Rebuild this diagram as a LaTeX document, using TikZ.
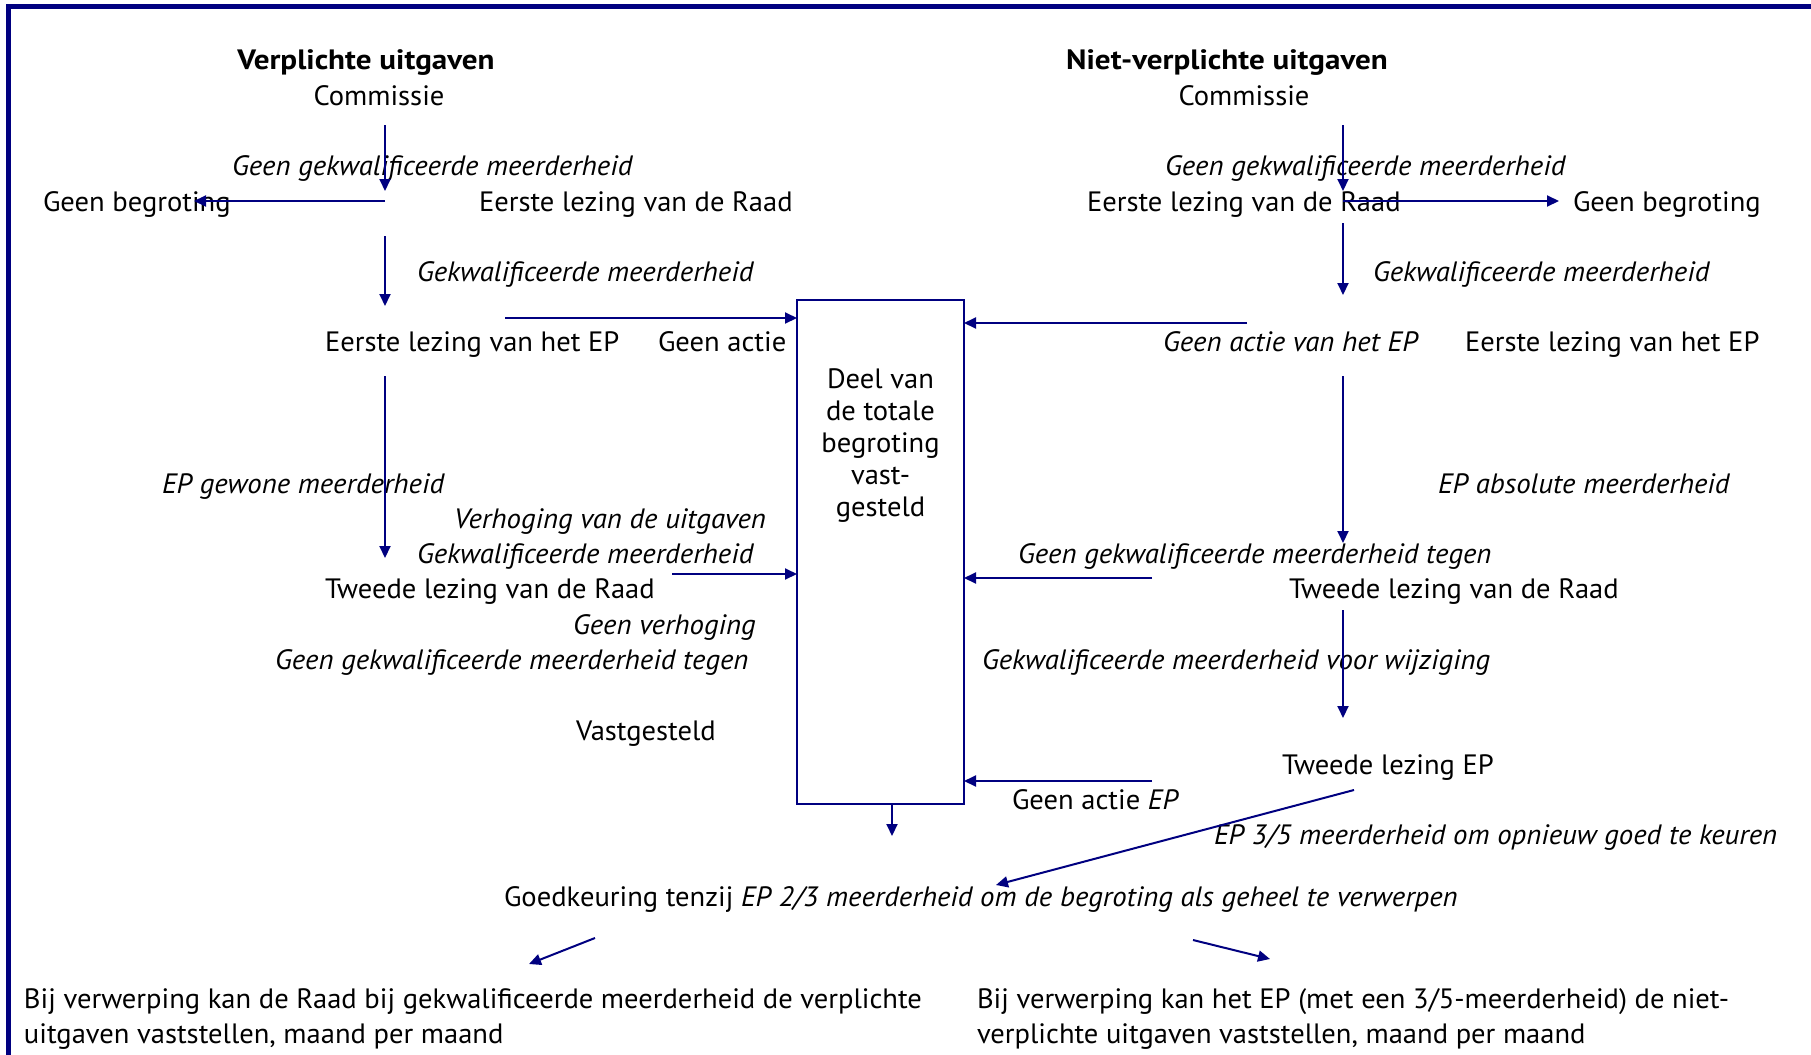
\documentclass[tikz,border=0pt]{standalone}
\usepackage{fontspec}
\setmainfont{PT Sans}[UprightFeatures={FakeStretch=1.02},ItalicFeatures={FakeStretch=1.03},BoldFeatures={FakeStretch=1.11}]
\usetikzlibrary{arrows.meta}
\definecolor{navy}{RGB}{0,0,128}
\begin{document}
\begin{tikzpicture}[x=0.5pt,y=-0.5pt,
  every node/.style={inner sep=0pt,outer sep=0pt,font=\fontsize{14pt}{16pt}\selectfont},
  lbl/.style={anchor=base west},
  ilbl/.style={anchor=base west,font=\fontsize{14pt}{16pt}\selectfont\itshape},
  ttl/.style={anchor=base,font=\fontsize{14pt}{16pt}\selectfont\bfseries},
  arr/.style={navy,line width=1pt,-{Triangle[length=6pt,width=5.5pt]}}]
\useasboundingbox (0,0) rectangle (1811,1055);
% frame
\draw[navy,line width=2.5pt] (1811,6) -- (8.5,6) -- (8.5,1055);
% central box
\node[draw=navy,line width=1pt,minimum width=83.5pt,minimum height=252pt,anchor=north west] (box) at (797,300) {};
\node[align=center,font=\fontsize{14pt}{16pt}\selectfont,anchor=north] (boxtext) at (880.5,369) {Deel van\\de totale\\begroting\\vast-\\gesteld};
% titles
\node[ttl] (t1) at (366,69) {Verplichte uitgaven};
\node[anchor=base] (c1) at (379,105) {Commissie};
\node[ttl] (t2) at (1227,69) {Niet-verplichte uitgaven};
\node[anchor=base] (c2) at (1244,105) {Commissie};
% left column
\node[ilbl] (l1) at (232,175) {Geen gekwalificeerde meerderheid};
\node[lbl] (l2) at (43,211) {Geen begroting};
\node[lbl] (l3) at (479,211) {Eerste lezing van de Raad};
\node[ilbl] (l4) at (417,281) {Gekwalificeerde meerderheid};
\node[lbl] (l5) at (325,351) {Eerste lezing van het EP};
\node[lbl] (l6) at (658,351) {Geen actie};
\node[ilbl] (l7) at (162,493) {EP gewone meerderheid};
\node[ilbl] (l8) at (454,528) {Verhoging van de uitgaven};
\node[ilbl] (l9) at (417,563) {Gekwalificeerde meerderheid};
\node[lbl] (l10) at (325,598) {Tweede lezing van de Raad};
\node[ilbl] (l11) at (573,634) {Geen verhoging};
\node[ilbl] (l12) at (275,669) {Geen gekwalificeerde meerderheid tegen};
\node[lbl] (l13) at (576,740) {Vastgesteld};
% right column
\node[ilbl] (r1) at (1165,175) {Geen gekwalificeerde meerderheid};
\node[lbl] (r2) at (1087,211) {Eerste lezing van de Raad};
\node[lbl] (r3) at (1573,211) {Geen begroting};
\node[ilbl] (r4) at (1373,281) {Gekwalificeerde meerderheid};
\node[ilbl] (r5) at (1163,351) {Geen actie van het EP};
\node[lbl] (r6) at (1465,351) {Eerste lezing van het EP};
\node[ilbl] (r7) at (1438,493) {EP absolute meerderheid};
\node[ilbl] (r8) at (1018,563) {Geen gekwalificeerde meerderheid tegen};
\node[lbl] (r9) at (1289,598) {Tweede lezing van de Raad};
\node[ilbl] (r10) at (982,669) {Gekwalificeerde meerderheid voor wijziging};
\node[lbl] (r11) at (1282,774) {Tweede lezing EP};
\node[lbl] (r12) at (1012,809) {Geen actie \textit{EP}};
\node[ilbl] (r13) at (1214,844) {EP 3/5 meerderheid om opnieuw goed te keuren};
% bottom
\node[lbl] (g) at (504,906) {Goedkeuring tenzij \textit{EP 2/3 meerderheid om de begroting als geheel te verwerpen}};
\node[lbl] (bl1) at (24,1008) {Bij verwerping kan de Raad bij gekwalificeerde meerderheid de verplichte};
\node[lbl] (bl2) at (24,1043) {uitgaven vaststellen, maand per maand};
\node[lbl] (br1) at (977,1008) {Bij verwerping kan het EP (met een 3/5-meerderheid) de niet-};
\node[lbl] (br2) at (977,1043) {verplichte uitgaven vaststellen, maand per maand};
% coordinates for arrow ends
\coordinate (a1s) at (385,125); \coordinate (a1e) at (385,191);
\coordinate (a2s) at (385,201); \coordinate (a2e) at (194,201);
\coordinate (a3s) at (385,236); \coordinate (a3e) at (385,306);
\coordinate (a4s) at (505,318);
\coordinate (a5s) at (385,376); \coordinate (a5e) at (385,558);
\coordinate (a6s) at (672,574);
\coordinate (b1s) at (1343,125); \coordinate (b1e) at (1343,191);
\coordinate (b2s) at (1343,201); \coordinate (b2e) at (1559,201);
\coordinate (b3s) at (1343,223); \coordinate (b3e) at (1343,295);
\coordinate (b4s) at (1247,323);
\coordinate (b5s) at (1343,376); \coordinate (b5e) at (1343,543);
\coordinate (b6s) at (1152,578);
\coordinate (b7s) at (1343,610); \coordinate (b7e) at (1343,718);
\coordinate (b8s) at (1152,781);
\coordinate (b9s) at (1354,790); \coordinate (b9e) at (996,885);
\coordinate (cs) at (892,804); \coordinate (ce) at (892,836);
\coordinate (d1s) at (595,938); \coordinate (d1e) at (529,964);
\coordinate (d2s) at (1193,940); \coordinate (d2e) at (1270,959);
% arrows
\draw[arr] (a1s) -- (a1e);
\draw[arr] (a2s) -- (a2e);
\draw[arr] (a3s) -- (a3e);
\draw[arr] (a4s) -- (a4s -| box.west);
\draw[arr] (a5s) -- (a5e);
\draw[arr] (a6s) -- (a6s -| box.west);
\draw[arr] (b1s) -- (b1e);
\draw[arr] (b2s) -- (b2e);
\draw[arr] (b3s) -- (b3e);
\draw[arr] (b4s) -- (b4s -| box.east);
\draw[arr] (b5s) -- (b5e);
\draw[arr] (b6s) -- (b6s -| box.east);
\draw[arr] (b7s) -- (b7e);
\draw[arr] (b8s) -- (b8s -| box.east);
\draw[arr] (b9s) -- (b9e);
\draw[arr] (cs) -- (ce);
\draw[arr] (d1s) -- (d1e);
\draw[arr] (d2s) -- (d2e);
\end{tikzpicture}
\end{document}
